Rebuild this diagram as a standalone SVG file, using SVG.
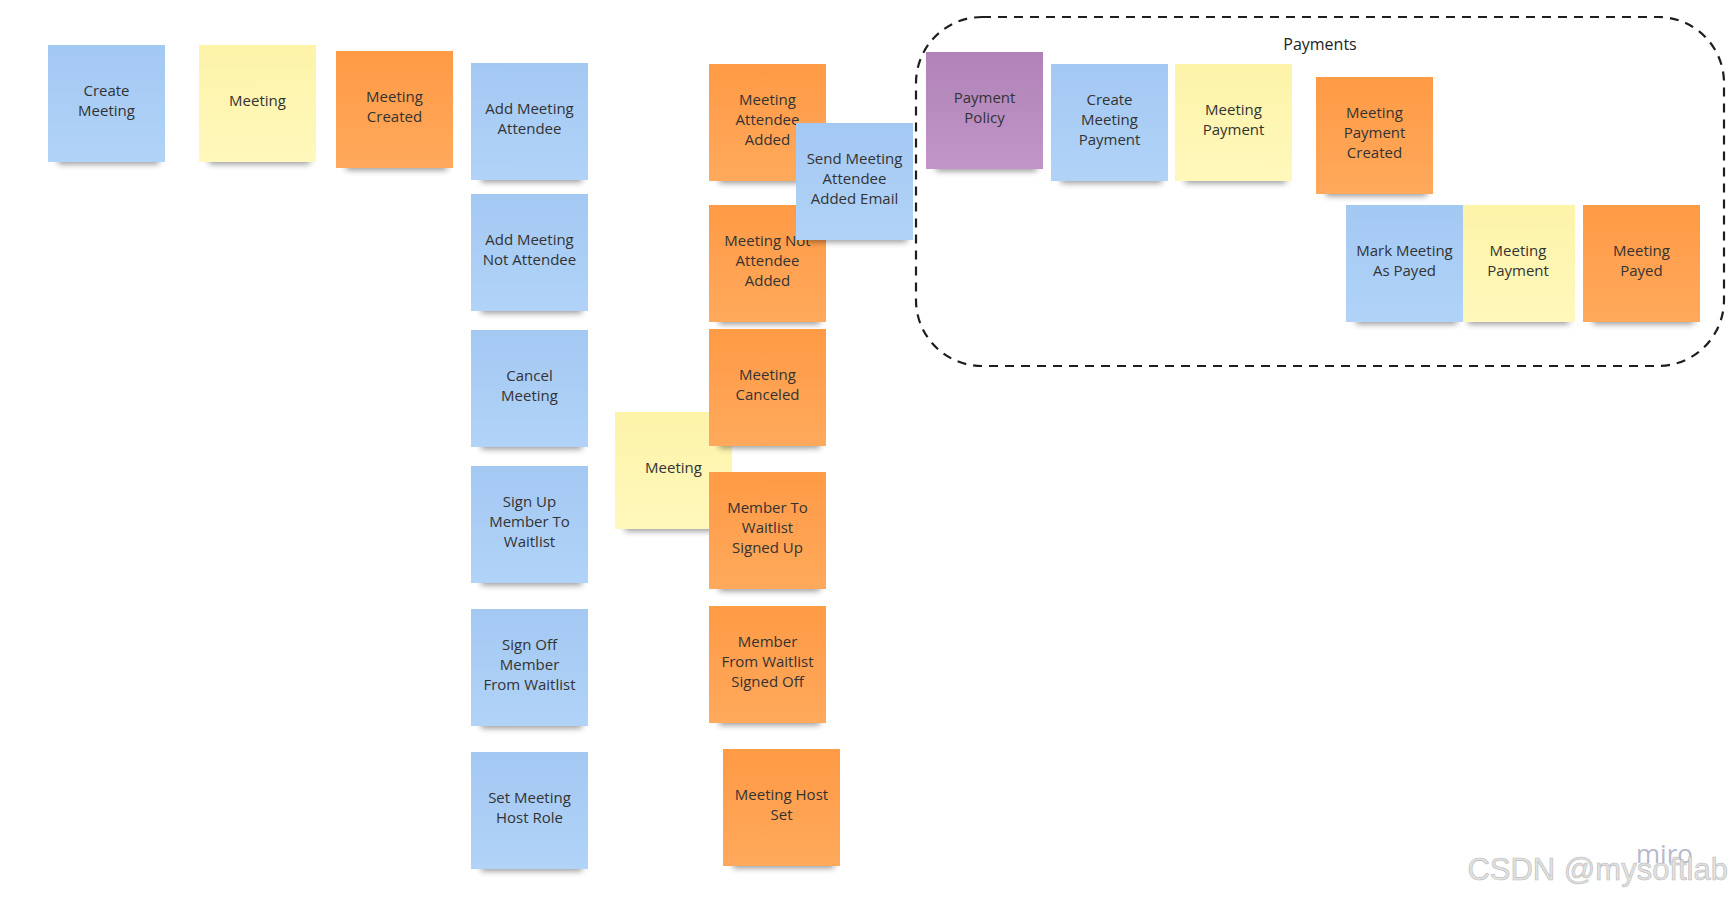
<svg xmlns="http://www.w3.org/2000/svg" width="1731" height="902" viewBox="0 0 1731 902">
<defs>
<linearGradient id="gBlue" x1="0" y1="0" x2="0" y2="1"><stop offset="0" stop-color="#a3c8f2"/><stop offset="1" stop-color="#b1d3f8"/></linearGradient>
<linearGradient id="gYellow" x1="0" y1="0" x2="0" y2="1"><stop offset="0" stop-color="#fdf3a9"/><stop offset="1" stop-color="#fff8bb"/></linearGradient>
<linearGradient id="gOrange" x1="0" y1="0" x2="0" y2="1"><stop offset="0" stop-color="#ff9a45"/><stop offset="1" stop-color="#ffa95c"/></linearGradient>
<linearGradient id="gPurple" x1="0" y1="0" x2="0" y2="1"><stop offset="0" stop-color="#b182b8"/><stop offset="1" stop-color="#c096c7"/></linearGradient>
<filter id="blur" x="-20%" y="-200%" width="140%" height="500%"><feGaussianBlur stdDeviation="3"/></filter>
</defs>
<style>
.shadow{fill:#000;opacity:.42;filter:url(#blur)}
.blue{fill:url(#gBlue)}
.yellow{fill:url(#gYellow)}
.orange{fill:url(#gOrange)}
.purple{fill:url(#gPurple)}
text{font-family:"Open Sans","Noto Sans","DejaVu Sans",sans-serif;font-size:15px;fill:#333;text-anchor:middle}
.title{font-size:16px;fill:#222}
.wm{font-family:"Liberation Sans",Arial,sans-serif;font-size:31px;fill:#e2e2e2;stroke:#b9b9b9;stroke-width:.6;text-anchor:end}
.miro{font-family:"Open Sans","Noto Sans",sans-serif;font-size:26px;fill:#b8b8cc;text-anchor:start}
</style>

<g id="connectors"/>

<g id="payments-frame">
<rect x="916" y="17" width="808" height="349" rx="66" ry="66" fill="none" stroke="#1e1e1e" stroke-width="2.2" stroke-dasharray="9 7"/>
<text class="title" x="1320" y="50">Payments</text>
</g>

<g id="n1"><rect class="shadow" x="58" y="155" width="101" height="9"/><rect class="blue" x="48" y="45" width="117" height="117"/><text x="106.5" y="95.5">Create</text><text x="106.5" y="115.5">Meeting</text></g>
<g id="n2"><rect class="shadow" x="209" y="155" width="101" height="9"/><rect class="yellow" x="199" y="45" width="117" height="117"/><text x="257.5" y="105.5">Meeting</text></g>
<g id="n3"><rect class="shadow" x="346" y="161" width="101" height="9"/><rect class="orange" x="336" y="51" width="117" height="117"/><text x="394.5" y="101.5">Meeting</text><text x="394.5" y="121.5">Created</text></g>
<g id="n4"><rect class="shadow" x="481" y="173" width="101" height="9"/><rect class="blue" x="471" y="63" width="117" height="117"/><text x="529.5" y="113.5">Add Meeting</text><text x="529.5" y="133.5">Attendee</text></g>
<g id="n5"><rect class="shadow" x="481" y="304" width="101" height="9"/><rect class="blue" x="471" y="194" width="117" height="117"/><text x="529.5" y="244.5">Add Meeting</text><text x="529.5" y="264.5">Not Attendee</text></g>
<g id="n6"><rect class="shadow" x="481" y="440" width="101" height="9"/><rect class="blue" x="471" y="330" width="117" height="117"/><text x="529.5" y="380.5">Cancel</text><text x="529.5" y="400.5">Meeting</text></g>
<g id="n7"><rect class="shadow" x="481" y="576" width="101" height="9"/><rect class="blue" x="471" y="466" width="117" height="117"/><text x="529.5" y="506.5">Sign Up</text><text x="529.5" y="526.5">Member To</text><text x="529.5" y="546.5">Waitlist</text></g>
<g id="n8"><rect class="shadow" x="481" y="719" width="101" height="9"/><rect class="blue" x="471" y="609" width="117" height="117"/><text x="529.5" y="649.5">Sign Off</text><text x="529.5" y="669.5">Member</text><text x="529.5" y="689.5">From Waitlist</text></g>
<g id="n9"><rect class="shadow" x="481" y="862" width="101" height="9"/><rect class="blue" x="471" y="752" width="117" height="117"/><text x="529.5" y="802.5">Set Meeting</text><text x="529.5" y="822.5">Host Role</text></g>

<g id="n10"><rect class="shadow" x="625" y="522" width="101" height="9"/><rect class="yellow" x="615" y="412" width="117" height="117"/><text x="673.5" y="472.5">Meeting</text></g>
<g id="n11"><rect class="shadow" x="719" y="174" width="101" height="9"/><rect class="orange" x="709" y="64" width="117" height="117"/><text x="767.5" y="104.5">Meeting</text><text x="767.5" y="124.5">Attendee</text><text x="767.5" y="144.5">Added</text></g>
<g id="n13"><rect class="shadow" x="719" y="315" width="101" height="9"/><rect class="orange" x="709" y="205" width="117" height="117"/><text x="767.5" y="245.5">Meeting Not</text><text x="767.5" y="265.5">Attendee</text><text x="767.5" y="285.5">Added</text></g>
<g id="n12"><rect class="shadow" x="806" y="233" width="101" height="9"/><rect class="blue" x="796" y="123" width="117" height="117"/><text x="854.5" y="163.5">Send Meeting</text><text x="854.5" y="183.5">Attendee</text><text x="854.5" y="203.5">Added Email</text></g>
<g id="n14"><rect class="shadow" x="719" y="439" width="101" height="9"/><rect class="orange" x="709" y="329" width="117" height="117"/><text x="767.5" y="379.5">Meeting</text><text x="767.5" y="399.5">Canceled</text></g>
<g id="n15"><rect class="shadow" x="719" y="582" width="101" height="9"/><rect class="orange" x="709" y="472" width="117" height="117"/><text x="767.5" y="512.5">Member To</text><text x="767.5" y="532.5">Waitlist</text><text x="767.5" y="552.5">Signed Up</text></g>
<g id="n16"><rect class="shadow" x="719" y="716" width="101" height="9"/><rect class="orange" x="709" y="606" width="117" height="117"/><text x="767.5" y="646.5">Member</text><text x="767.5" y="666.5">From Waitlist</text><text x="767.5" y="686.5">Signed Off</text></g>
<g id="n17"><rect class="shadow" x="733" y="859" width="101" height="9"/><rect class="orange" x="723" y="749" width="117" height="117"/><text x="781.5" y="799.5">Meeting Host</text><text x="781.5" y="819.5">Set</text></g>

<g id="n18"><rect class="shadow" x="936" y="162" width="101" height="9"/><rect class="purple" x="926" y="52" width="117" height="117"/><text x="984.5" y="102.5">Payment</text><text x="984.5" y="122.5">Policy</text></g>
<g id="n19"><rect class="shadow" x="1061" y="174" width="101" height="9"/><rect class="blue" x="1051" y="64" width="117" height="117"/><text x="1109.5" y="104.5">Create</text><text x="1109.5" y="124.5">Meeting</text><text x="1109.5" y="144.5">Payment</text></g>
<g id="n20"><rect class="shadow" x="1185" y="174" width="101" height="9"/><rect class="yellow" x="1175" y="64" width="117" height="117"/><text x="1233.5" y="114.5">Meeting</text><text x="1233.5" y="134.5">Payment</text></g>
<g id="n21"><rect class="shadow" x="1326" y="187" width="101" height="9"/><rect class="orange" x="1316" y="77" width="117" height="117"/><text x="1374.5" y="117.5">Meeting</text><text x="1374.5" y="137.5">Payment</text><text x="1374.5" y="157.5">Created</text></g>
<g id="n23"><rect class="shadow" x="1468" y="315" width="101" height="9"/><rect class="yellow" x="1458" y="205" width="117" height="117"/><text x="1518" y="255.5">Meeting</text><text x="1518" y="275.5">Payment</text></g>
<g id="n22"><rect class="shadow" x="1356" y="315" width="101" height="9"/><rect class="blue" x="1346" y="205" width="117" height="117"/><text x="1404.5" y="255.5">Mark Meeting</text><text x="1404.5" y="275.5">As Payed</text></g>
<g id="n24"><rect class="shadow" x="1593" y="315" width="101" height="9"/><rect class="orange" x="1583" y="205" width="117" height="117"/><text x="1641.5" y="255.5">Meeting</text><text x="1641.5" y="275.5">Payed</text></g>

<g id="watermark">
<text class="miro" x="1636" y="863">miro</text>
<text class="wm" x="1728" y="880">CSDN @mysoftlab</text>
</g>
</svg>
